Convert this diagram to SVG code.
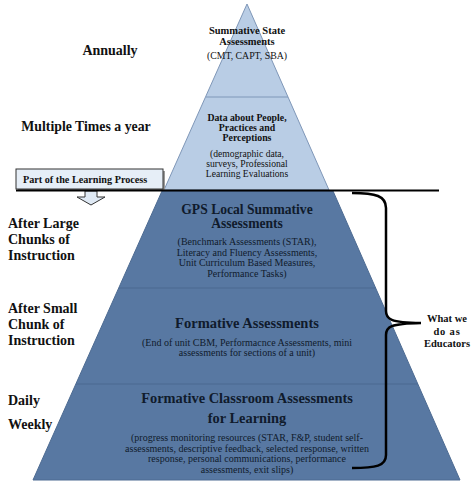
<svg xmlns="http://www.w3.org/2000/svg" width="474" height="486" viewBox="0 0 474 486" font-family="'Liberation Serif', 'Times New Roman', serif">
<defs>
<style>
.lbl{font-family:"Liberation Serif","Times New Roman",serif;font-weight:bold;fill:#111;}
.side{font-size:14px;}
.tl{font-family:"Liberation Serif","Times New Roman",serif;fill:#111;text-anchor:middle;}
.td{font-family:"Liberation Serif","Times New Roman",serif;fill:#101b2c;text-anchor:middle;}
.b{font-weight:bold;}
.sm{font-size:10px;}
.light{fill:#b9cde5;stroke:#7f97b8;stroke-width:1;}
.dark{fill:#5878a2;stroke:#4d6b92;stroke-width:1;}
.div{stroke:#4a6890;stroke-width:1.2;fill:none;}
.divl{stroke:#7f97b8;stroke-width:1;fill:none;}
</style>
</defs>
<rect width="474" height="486" fill="#ffffff"/>

<g id="pyramid-top">
<polygon class="light" points="247,4 329,190 164,190"/>
<line class="divl" x1="206" y1="97" x2="288" y2="97"/>
<text class="tl b" x="247" y="34" font-size="10.5">Summative State</text>
<text class="tl b" x="247" y="45" font-size="10.5">Assessments</text>
<text class="tl" x="247" y="59" font-size="9.8">(CMT, CAPT, SBA)</text>
</g>

<g id="tier-data">
<text class="tl b" x="247" y="121" font-size="9.8">Data about People,</text>
<text class="tl b" x="247" y="131" font-size="9.8">Practices and</text>
<text class="tl b" x="247" y="141" font-size="9.8">Perceptions</text>
<text class="tl" x="247" y="156.5" font-size="9.6">(demographic data,</text>
<text class="tl" x="247" y="166.5" font-size="9.6">surveys, Professional</text>
<text class="tl" x="247" y="176.5" font-size="9.6">Learning Evaluations</text>
</g>

<g id="pyramid-bottom">
<polygon class="dark" points="162,191 333,191 460,480 33,480"/>
<line class="div" x1="119" y1="288" x2="376" y2="288"/>
<line class="div" x1="76" y1="384" x2="418" y2="384"/>
</g>

<g id="tier-gps">
<text class="td b" x="247" y="214" font-size="13.6">GPS Local Summative</text>
<text class="td b" x="247" y="228" font-size="13.6">Assessments</text>
<text class="td sm" x="247" y="245">(Benchmark Assessments (STAR),</text>
<text class="td sm" x="247" y="255.5">Literacy and Fluency Assessments,</text>
<text class="td sm" x="247" y="266">Unit Curriculum Based Measures,</text>
<text class="td sm" x="247" y="276.5">Performance Tasks)</text>
</g>

<g id="tier-formative">
<text class="td b" x="247" y="328" font-size="14.5">Formative Assessments</text>
<text class="td sm" x="247" y="346">(End of unit CBM, Performacnce Assessments, mini</text>
<text class="td sm" x="247" y="356">assessments for sections of a unit)</text>
</g>

<g id="tier-classroom">
<text class="td b" x="247" y="403" font-size="14.4">Formative Classroom Assessments</text>
<text class="td b" x="247" y="423" font-size="14.4">for Learning</text>
<text class="td sm" x="247" y="441">(progress monitoring resources (STAR, F&amp;P, student self-</text>
<text class="td sm" x="247" y="451.5">assessments, descriptive feedback, selected response, written</text>
<text class="td sm" x="247" y="462">response, personal communications, performance</text>
<text class="td sm" x="247" y="472.5">assessments, exit slips)</text>
</g>

<g id="side-labels">
<text class="lbl side" x="110" y="55" text-anchor="middle">Annually</text>
<text class="lbl" x="86" y="131" font-size="13.8" text-anchor="middle">Multiple Times a year</text>
<text class="lbl side" x="8" y="228">After Large</text>
<text class="lbl side" x="8" y="244">Chunks of</text>
<text class="lbl side" x="8" y="260">Instruction</text>
<text class="lbl side" x="8" y="313">After Small</text>
<text class="lbl side" x="8" y="329">Chunk of</text>
<text class="lbl side" x="8" y="345">Instruction</text>
<text class="lbl side" x="8" y="405">Daily</text>
<text class="lbl side" x="8" y="429">Weekly</text>
</g>

<g id="learning-process">
<rect x="18" y="171" width="147" height="20" fill="#9a9a9a"/>
<rect x="16" y="169" width="147" height="20" fill="#e6eef7" stroke="#333" stroke-width="1"/>
<text class="lbl" x="23" y="183" font-size="10.2">Part of the Learning Process</text>
<polygon points="85,191 97,191 97,197 105,197 91,205 77,197 85,197" fill="#dfe9f4" stroke="#333" stroke-width="1"/>
</g>

<g id="educators">
<text class="lbl" x="447" y="322" font-size="10.5" text-anchor="middle">What we</text>
<text class="lbl" x="447" y="335" font-size="10.5" text-anchor="middle" letter-spacing="0.8">do as</text>
<text class="lbl" x="447" y="347" font-size="10.5" text-anchor="middle">Educators</text>
</g>

<g id="connectors">
<line x1="16" y1="190.5" x2="439" y2="190.5" stroke="#000" stroke-width="2"/>
<path d="M352,193 C376,193 386,196 386,208 L386,311 C386,319 390,322.5 421,323 C390,323.5 386,327 386,335 L386,455 C386,466 376,468 352,468" fill="none" stroke="#000" stroke-width="2.5"/>
</g>
</svg>
